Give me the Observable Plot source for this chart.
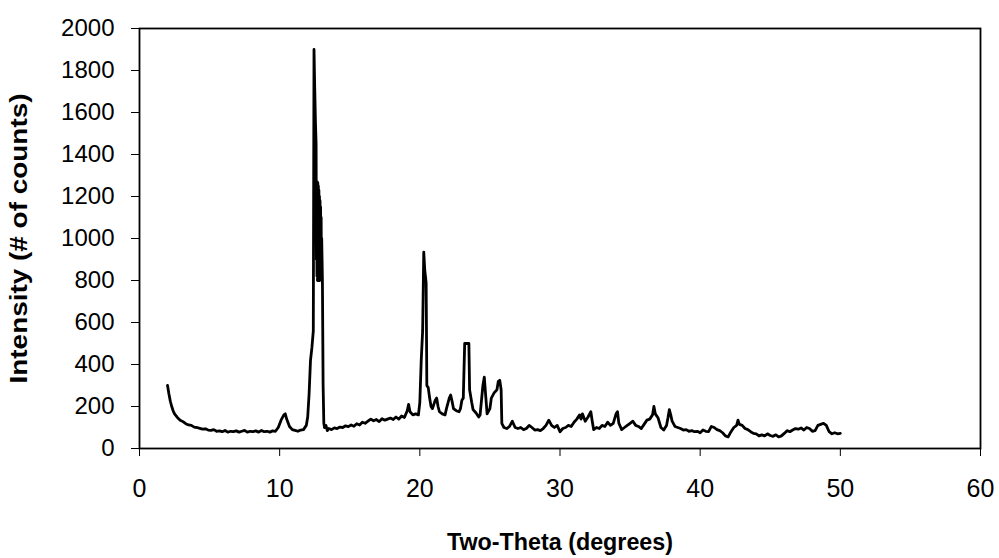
<!DOCTYPE html>
<html>
<head>
<meta charset="utf-8">
<script src="https://cdn.jsdelivr.net/npm/d3@7"></script>
<script src="https://cdn.jsdelivr.net/npm/@observablehq/plot@0.6"></script>
<style>
  html, body { margin: 0; padding: 0; background: #fff; }
  #chart { width: 999px; height: 558px; }
</style>
</head>
<body>
<div id="chart"></div>
<script>
const twoTheta = [
  2.0, 2.1, 2.2, 2.3, 2.4, 2.5, 2.7, 2.9, 3.1, 3.3, 3.5, 3.7, 3.9, 4.1, 4.3, 4.5, 4.7, 4.9,
  5.1, 5.3, 5.5, 5.7, 5.9, 6.1, 6.3, 6.5, 6.7, 6.9, 7.1, 7.3, 7.5, 7.7, 7.9, 8.1, 8.3, 8.5,
  8.7, 8.9, 9.1, 9.3, 9.5, 9.7, 9.9, 10.1, 10.3, 10.4, 10.5, 10.7, 10.9, 11.1, 11.3, 11.5,
  11.7, 11.9, 12.0, 12.1, 12.2, 12.3, 12.4, 12.45, 12.5, 12.55, 12.6,
  12.62, 12.64, 12.66, 12.68, 12.7, 12.72, 12.74, 12.76, 12.78, 12.8,
  12.82, 12.84, 12.86, 12.88, 12.9, 12.92, 12.94, 12.96, 12.98, 13.0,
  13.05, 13.1, 13.15, 13.2, 13.3,
  13.4, 13.5, 13.7, 13.9, 14.1, 14.3, 14.5, 14.7, 14.9, 15.1, 15.3, 15.5, 15.7, 15.9, 16.1,
  16.3, 16.5, 16.7, 16.9, 17.1, 17.3, 17.5, 17.7, 17.9, 18.1, 18.3, 18.5, 18.7, 18.9, 19.1,
  19.2, 19.3, 19.5, 19.7, 19.9, 20.0, 20.1, 20.2, 20.28, 20.35, 20.45, 20.5, 20.6, 20.7, 20.8,
  20.9, 21.0, 21.1, 21.2, 21.3, 21.4, 21.6, 21.8, 21.9, 22.1, 22.2, 22.3, 22.4, 22.6, 22.8,
  22.9, 23.0, 23.1, 23.2, 23.5, 23.55, 23.7, 23.8, 24.0, 24.2, 24.3, 24.5, 24.6, 24.7, 24.8,
  25.0, 25.1, 25.3, 25.5, 25.6, 25.7, 25.8, 25.85, 26.0, 26.2, 26.4, 26.6, 26.8, 27.0, 27.2,
  27.4, 27.6, 27.8, 28.0, 28.2, 28.4, 28.6, 28.8, 29.0, 29.2, 29.4, 29.6, 29.8, 30.0, 30.2,
  30.4, 30.6, 30.8, 31.0, 31.2, 31.4, 31.5, 31.6, 31.8, 32.0, 32.2, 32.3, 32.4, 32.6, 32.8,
  33.0, 33.2, 33.4, 33.6, 33.8, 34.0, 34.1, 34.2, 34.4, 34.6, 34.8, 35.0, 35.2, 35.4, 35.6,
  35.8, 36.0, 36.2, 36.4, 36.6, 36.7, 36.8, 37.0, 37.2, 37.4, 37.6, 37.7, 37.8, 37.9, 38.0,
  38.2, 38.4, 38.6, 38.8, 39.0, 39.2, 39.4, 39.6, 39.8, 40.0, 40.2, 40.4, 40.6, 40.8, 41.0,
  41.2, 41.4, 41.6, 41.8, 42.0, 42.2, 42.4, 42.6, 42.7, 42.8, 43.0, 43.2, 43.4, 43.6, 43.8,
  44.0, 44.2, 44.4, 44.6, 44.8, 45.0, 45.2, 45.4, 45.6, 45.8, 46.0, 46.2, 46.4, 46.6, 46.8,
  47.0, 47.2, 47.4, 47.6, 47.8, 48.0, 48.2, 48.4, 48.6, 48.8, 49.0, 49.2, 49.4, 49.6, 49.8, 50.0
];
const counts = [
  300, 260, 225, 200, 180, 165, 148, 135, 128, 118, 112, 110, 102, 100, 96, 92, 94, 88,
  86, 90, 82, 84, 80, 86, 78, 82, 80, 84, 78, 82, 86, 78, 82, 80, 84, 78,
  86, 80, 82, 78, 84, 82, 100, 135, 160, 165, 140, 105, 90, 86, 82, 88,
  90, 110, 150, 260, 420, 480, 560, 1900, 1720, 1560, 1450,
  900, 1260, 820, 1270, 800, 1265, 810, 1250, 800, 1230,
  820, 1200, 800, 1180, 830, 1150, 850, 1100, 820, 1000,
  800, 300, 120, 100, 110,
  85, 95, 90, 98, 95, 102, 100, 108, 104, 112, 106, 118, 112, 125, 120,
  130, 140, 132, 138, 128, 142, 135, 140, 145, 138, 150, 140, 155, 148, 180,
  210, 175, 160, 165, 160, 220, 420, 560, 935, 850, 790, 300, 290, 240, 200,
  190, 210, 230, 240, 200, 175, 165, 160, 190, 240, 255, 225, 190, 180, 175,
  190, 230, 240, 500, 500, 280, 220, 185, 170, 150, 160, 300, 340, 250, 165,
  190, 240, 265, 280, 320, 325, 280, 120, 100, 95, 105, 130, 100, 95, 100,
  90, 95, 110, 100, 88, 90, 85, 95, 110, 135, 110, 100, 110, 80, 95,
  100, 110, 105, 125, 140, 160, 140, 165, 130, 150, 175, 130, 90, 100, 95,
  110, 105, 125, 110, 120, 165, 175, 120, 90, 100, 110, 120, 130, 110, 105,
  95, 115, 135, 140, 160, 200, 165, 145, 100, 88, 110, 145, 185, 160, 130,
  105, 100, 95, 88, 90, 82, 85, 80, 82, 75, 88, 82, 80, 105, 100,
  90, 85, 75, 60, 55, 80, 100, 110, 135, 115, 110, 95, 90, 80, 72,
  70, 60, 65, 60, 70, 62, 58, 65, 55, 60, 72, 85, 80, 88, 95,
  92, 98, 88, 100, 95, 82, 85, 110, 115, 120, 110, 80, 70, 75, 70, 72
];
const xTicks = [0, 10, 20, 30, 40, 50, 60];
const yTicks = [0, 200, 400, 600, 800, 1000, 1200, 1400, 1600, 1800, 2000];

const data = twoTheta.map((t, i) => ({t, c: counts[i]}));

const chart = Plot.plot({
  width: 999,
  height: 558,
  marginLeft: 139,
  marginRight: 19,
  marginTop: 28,
  marginBottom: 110,
  style: {fontFamily: "'Liberation Sans', Arial, sans-serif", background: "#fff", color: "#000"},
  x: {domain: [0, 60]},
  y: {domain: [0, 2000]},
  marks: [
    Plot.axisY({
      ticks: yTicks, tickFormat: d => String(d), tickSize: 8, tickPadding: 17, fontSize: 24,
      label: "Intensity (# of counts)", labelAnchor: "center", labelOffset: 130,
      labelArrow: "none"
    }),
    Plot.axisX({
      ticks: xTicks, tickFormat: d => String(d), tickSize: 8, tickPadding: 23, fontSize: 25,
      label: "Two-Theta (degrees)", labelAnchor: "center", labelOffset: 101,
      labelArrow: "none"
    }),
    Plot.frame({stroke: "#000", strokeWidth: 1.8}),
    Plot.line(data, {x: "t", y: "c", stroke: "#000", strokeWidth: 2.8, strokeLinejoin: "round"})
  ]
});
// bold axis titles, stretched to the reference's lengths
const yl = chart.querySelector("g[aria-label='y-axis label'] text");
if (yl) {
  yl.setAttribute("font-weight", "bold");
  yl.setAttribute("font-size", "24");
  yl.setAttribute("textLength", "290");
  yl.setAttribute("lengthAdjust", "spacingAndGlyphs");
}
const xl = chart.querySelector("g[aria-label='x-axis label'] text");
if (xl) {
  xl.setAttribute("font-weight", "bold");
  xl.setAttribute("font-size", "23");
  xl.setAttribute("textLength", "226");
  xl.setAttribute("lengthAdjust", "spacingAndGlyphs");
}
document.getElementById("chart").appendChild(chart);
</script>
</body>
</html>
